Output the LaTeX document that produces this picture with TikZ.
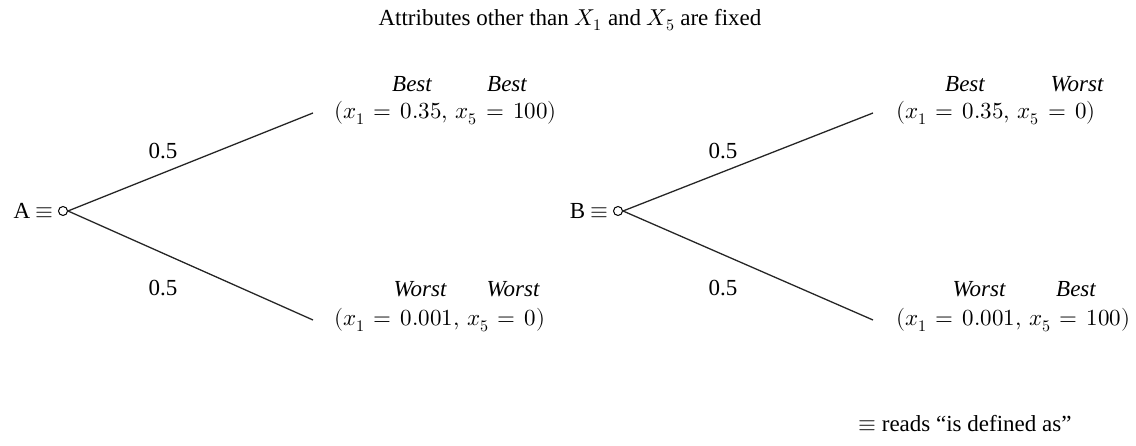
\documentclass[tikz,border=0pt]{standalone}
\usepackage{fontspec}
\usepackage{unicode-math}
\setmainfont{Liberation Serif}
\setmathfont{Latin Modern Math}
\newcommand{\wide}{\thickmuskip=7mu plus 2mu\relax}
\begin{document}
\begin{tikzpicture}[x=1pt,y=-1pt,
  txt/.style={font=\fontsize{23}{27}\selectfont\wide, inner sep=0pt},
  lab/.style={inner sep=0pt, font=\fontsize{23}{27}\selectfont\itshape},
  root/.style={circle, draw, line width=1pt, minimum size=9pt, inner sep=0pt},
  branch/.style={line width=1.3pt, black!85}]
\useasboundingbox (0,0) rectangle (1136,446);
\node[txt] (title) at (570,20) {Attributes other than $X_1$ and $X_5$ are fixed};
% Tree A
\node[txt, anchor=east] (Alab) at (54,211) {A $\equiv$};
\node[root] (Ac) at (63,211) {};
\coordinate (Aup) at (313,113);
\coordinate (Adn) at (313,320);
\draw[branch] (Ac.east) -- (Aup);
\draw[branch] (Ac.east) -- (Adn);
\node[txt] (Ap1) at (163,151) {0.5};
\node[txt] (Ap2) at (163,288) {0.5};
\node[txt, anchor=west] (Aupf) at (334,113) {$(x_1 = 0.35,\, x_5 = 100)$};
\node[lab] (Aul1) at (412,84) {Best};
\node[lab] (Aul2) at (507,84) {Best};
\node[txt, anchor=west] (Adnf) at (334,320) {$(x_1 = 0.001,\, x_5 = 0)$};
\node[lab] (Adl1) at (420,289) {Worst};
\node[lab] (Adl2) at (513,289) {Worst};
% Tree B
\node[txt, anchor=east] (Blab) at (609,211) {B $\equiv$};
\node[root] (Bc) at (618,211) {};
\coordinate (Bup) at (873,113);
\coordinate (Bdn) at (873,320);
\draw[branch] (Bc.east) -- (Bup);
\draw[branch] (Bc.east) -- (Bdn);
\node[txt] (Bp1) at (723,151) {0.5};
\node[txt] (Bp2) at (723,288) {0.5};
\node[txt, anchor=west] (Bupf) at (896,113) {$(x_1 = 0.35,\, x_5 = 0)$};
\node[lab] (Bul1) at (965,84) {Best};
\node[lab] (Bul2) at (1077,84) {Worst};
\node[txt, anchor=west] (Bdnf) at (896,320) {$(x_1 = 0.001,\, x_5 = 100)$};
\node[lab] (Bdl1) at (979,289) {Worst};
\node[lab] (Bdl2) at (1076,289) {Best};
% note
\node[txt, anchor=west] (note) at (858,424) {$\equiv$ reads “is defined as”};
\end{tikzpicture}
\end{document}
